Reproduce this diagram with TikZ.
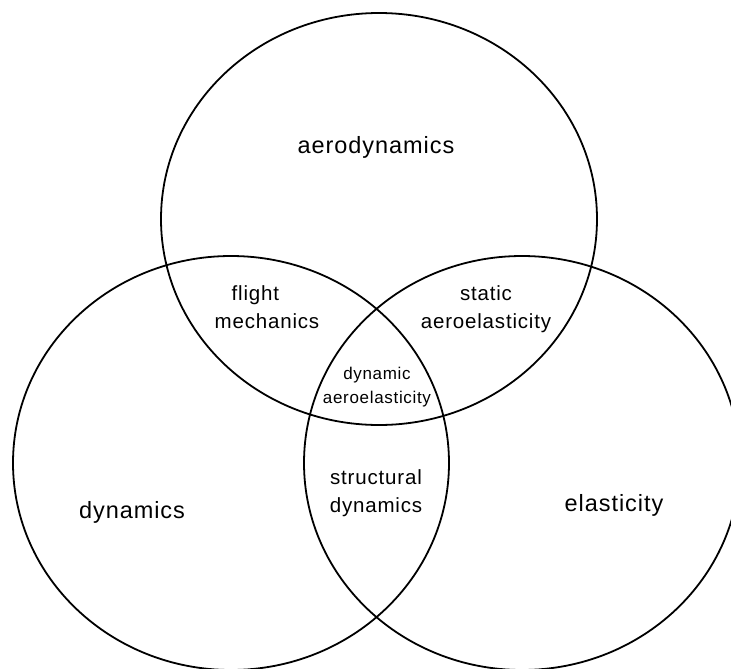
\documentclass[tikz,border=0pt]{standalone}
\usepackage{fontspec}
\setmainfont{Liberation Sans}
\newfontfamily\lblfont[LetterSpace=4]{Liberation Sans}
\usepackage{tikz}

\begin{document}
\begin{tikzpicture}[x=1pt, y=-1pt,
    ring/.style={line width=1.8pt, black},
    bigfield/.style={font=\lblfont\fontsize{23.5}{28}\selectfont, inner sep=0pt, align=center},
    overlap/.style={font=\lblfont\fontsize{20.5}{27.5}\selectfont, inner sep=0pt, align=center},
    core/.style={font=\lblfont\fontsize{17}{24.5}\selectfont, inner sep=0pt, align=center}]
    \useasboundingbox (0,0) rectangle (731,669);
    \clip (0,0) rectangle (731,669);
    \fill[white] (0,0) rectangle (731,669);
    % circles of the three fields
    \coordinate (aero) at (379,219);
    \coordinate (dyn) at (231,463);
    \coordinate (elast) at (522,463);
    \draw[ring] (aero) ellipse [x radius=218pt, y radius=206pt];
    \draw[ring] (dyn) ellipse [x radius=218pt, y radius=207pt];
    \draw[ring] (elast) ellipse [x radius=218pt, y radius=207pt];
    % labels
    \node[bigfield] (aerolbl) at (376,147) {aerodynamics};
    \node[bigfield] (dynlbl) at (132,512) {dynamics};
    \node[bigfield] (elastlbl) at (614,505) {elasticity};
    \node[overlap, align=left] (flightlbl) at (267,307) {\hspace{17pt}flight\\mechanics};
    \node[overlap] (staticlbl) at (486,309) {static\\aeroelasticity};
    \node[overlap] (structlbl) at (376,493) {structural\\dynamics};
    \node[core] (dynaerolbl) at (377,387) {dynamic\\aeroelasticity};
\end{tikzpicture}
\end{document}
